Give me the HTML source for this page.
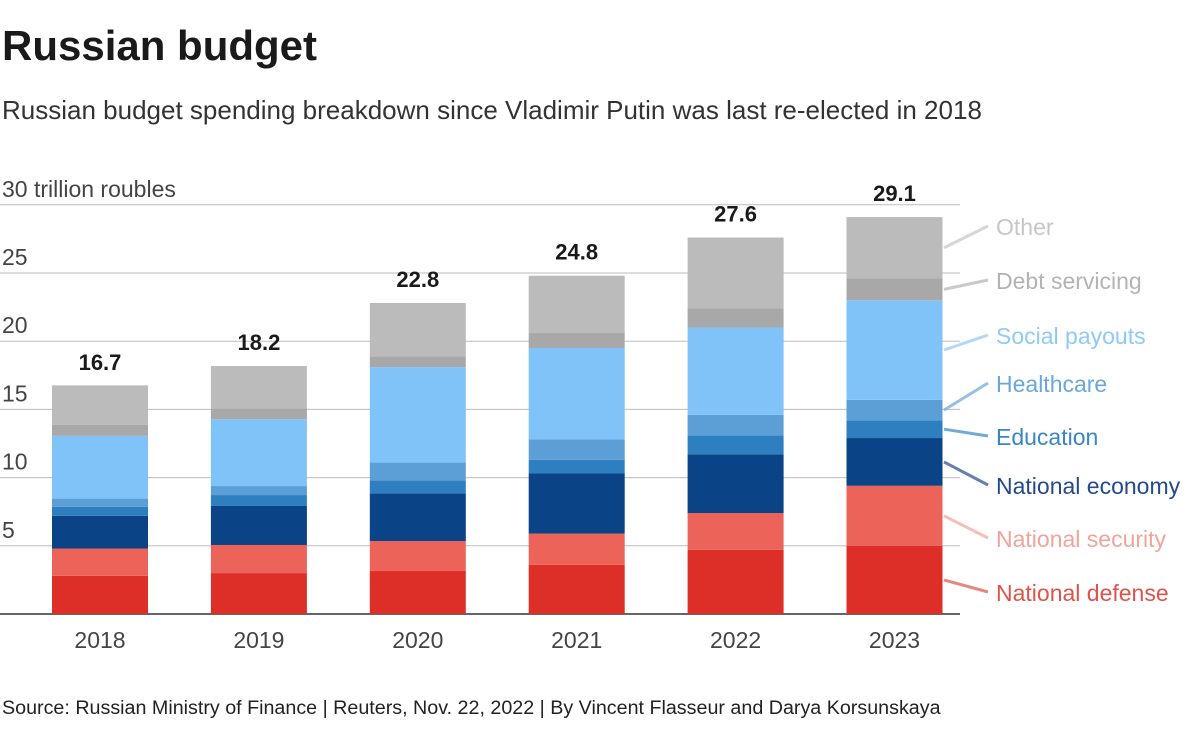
<!DOCTYPE html>
<html><head><meta charset="utf-8"><style>
body{margin:0;background:#fff;font-family:"Liberation Sans",sans-serif;}
</style></head><body>
<svg width="1200" height="727" xmlns="http://www.w3.org/2000/svg">
<text x="2" y="60" font-size="42" font-weight="bold" fill="#1a1a1a">Russian budget</text>
<text x="2" y="119" font-size="26" fill="#333">Russian budget spending breakdown since Vladimir Putin was last re-elected in 2018</text>
<text x="2" y="714" font-size="19.7" fill="#222">Source: Russian Ministry of Finance | Reuters, Nov. 22, 2022 | By Vincent Flasseur and Darya Korsunskaya</text>
<g id="grid"></g><g id="bars"></g><g id="legend"></g>
</svg>
<script>
const years=["2018","2019","2020","2021","2022","2023"];
const totals=[16.7,18.2,22.8,24.8,27.6,29.1];
const defense=[2.8,3.0,3.15,3.6,4.7,5.0];
const security=[2.0,2.06,2.2,2.3,2.7,4.4];
const economy=[2.4,2.86,3.5,4.4,4.3,3.5];
const education=[0.66,0.8,0.95,1.0,1.4,1.3];
const healthcare=[0.6,0.66,1.3,1.5,1.5,1.5];
const social=[4.6,4.9,7.0,6.7,6.4,7.3];
const debt=[0.8,0.8,0.8,1.1,1.4,1.6];
const other=[2.9,3.1,3.9,4.2,5.2,4.5];
const yTicks=[5,10,15,20,25,30];
const series=[
 ["National defense",defense,"#dd2e27","#e0524a"],
 ["National security",security,"#ec6359","#f2a49c"],
 ["National economy",economy,"#0a4386","#24498c"],
 ["Education",education,"#2e7fc0","#3a86c4"],
 ["Healthcare",healthcare,"#5b9fd6","#6aa7db"],
 ["Social payouts",social,"#7fc3f8","#8fcaf7"],
 ["Debt servicing",debt,"#a8a8a8","#b3b3b3"],
 ["Other",other,"#bbbbbb","#c6c6c6"]];
const labelY=[601,547,494,445,392,344,289,235];
const NS="http://www.w3.org/2000/svg";
const y=v=>614-v*13.64;
const x=i=>52+i*158.9;
const bw=96;
function mk(t,a,p){const e=document.createElementNS(NS,t);for(const k in a)e.setAttribute(k,a[k]);p.appendChild(e);return e;}
const grid=document.getElementById('grid'),bars=document.getElementById('bars'),leg=document.getElementById('legend');
yTicks.forEach(t=>{
 const l=mk('line',{x1:0,x2:960,y1:y(t),y2:y(t),stroke:'#bdbdbd','stroke-width':1},grid);
 
 
 const tx=mk('text',{x:2,y:y(t)-8,'font-size':23,fill:'#444'},grid);
 tx.textContent=t===30?'30 trillion roubles':t;
 
 
});
const ax=mk('line',{x1:0,x2:960,y1:614,y2:614,stroke:'#333','stroke-width':1.5},grid);


years.forEach((yr,i)=>{
 let cum=0;
 series.forEach(s=>{
  const v=s[1][i];
  const r=mk('rect',{x:x(i),y:y(cum+v),width:bw,height:v*13.64,fill:s[2]},bars);
  
  
  cum+=v;
 });
 const tl=mk('text',{x:x(i)+bw/2,y:y(totals[i])-16,'font-size':22,'font-weight':'bold','text-anchor':'middle',fill:'#1a1a1a'},bars);
 tl.textContent=totals[i].toFixed(1);
 
 
 const xl=mk('text',{x:x(i)+bw/2,y:648,'font-size':23,'text-anchor':'middle',fill:'#444'},bars);
 xl.textContent=yr;
 
 
});
let cum=0;const last=years.length-1;
series.forEach((s,k)=>{
 const v=s[1][last];const mid=y(cum+v/2);cum+=v;
 const ln=mk('line',{x1:944,y1:mid,x2:988,y2:labelY[k]-9,stroke:s[3],'stroke-width':3,opacity:0.7},leg);
 
 
 const t=mk('text',{x:996,y:labelY[k],'font-size':23,fill:s[3]},leg);
 t.textContent=s[0];
 
 
});
</script>
</body></html>
